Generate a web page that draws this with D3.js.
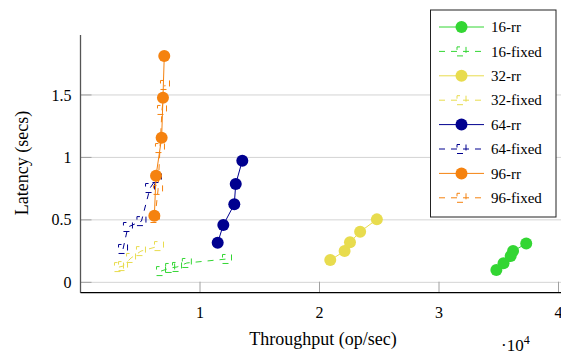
<!DOCTYPE html>
<html>
<head>
<meta charset="utf-8">
<script src="https://d3js.org/d3.v7.min.js"></script>
<style>
  body { margin: 0; background: #fff; }
  svg { font-family: 'Liberation Serif', 'DejaVu Serif', serif; }
</style>
</head>
<body>
<svg width="561" height="354" id="chart"></svg>
<script>
// series names, colours and values (throughput op/sec, latency secs)
var seriesNames = ['16-rr', '16-fixed', '32-rr', '32-fixed', '64-rr', '64-fixed', '96-rr', '96-fixed'];
var seriesColors = ['#33d633', '#33d633', '#e8dc4e', '#e8dc4e', '#00008f', '#00008f', '#f5820f', '#f5820f'];

var x16rr = [34800, 35400, 36000, 36200, 37300];
var y16rr = [0.098, 0.152, 0.210, 0.250, 0.310];
var x16fixed = [6740, 7500, 8080, 8900, 12260];
var y16fixed = [0.090, 0.115, 0.123, 0.155, 0.187];

var x32rr = [20900, 22100, 22550, 23400, 24800];
var y32rr = [0.178, 0.250, 0.320, 0.405, 0.504];
var x32fixed = [3220, 3560, 4230, 5060, 6570];
var y32fixed = [0.122, 0.130, 0.195, 0.250, 0.290];

var x64rr = [11480, 11950, 12870, 12990, 13540];
var y64rr = [0.317, 0.459, 0.625, 0.787, 0.974];
var x64fixed = [3560, 3970, 5100, 5820, 6400];
var y64fixed = [0.267, 0.443, 0.490, 0.755, 0.835];

var x96rr = [6180, 6320, 6790, 6900, 7010];
var y96rr = [0.533, 0.853, 1.158, 1.478, 1.812];
var x96fixed = [6230, 6490, 6650, 6820, 7070];
var y96fixed = [0.515, 0.740, 1.075, 1.380, 1.580];

var xTicks = [10000, 20000, 30000, 40000];
var xTickLabels = ['1', '2', '3', '4'];
var yTicks = [0, 0.5, 1, 1.5];

var allX = [x16rr, x16fixed, x32rr, x32fixed, x64rr, x64fixed, x96rr, x96fixed];
var allY = [y16rr, y16fixed, y32rr, y32fixed, y64rr, y64fixed, y96rr, y96fixed];

var svg = d3.select('#chart');
var plotLeft = 80.5, plotRight = 558.5, plotTop = 35, plotBottom = 292.7;

var x = d3.scaleLinear().domain([0, 40000]).range([plotLeft, plotRight]);
var y = d3.scaleLinear().domain([-0.083, 1.98]).range([plotBottom, plotTop]);

// horizontal grid
svg.append('g').selectAll('line')
  .data(yTicks).enter().append('line')
  .attr('x1', plotLeft).attr('x2', 561)
  .attr('y1', d => y(d)).attr('y2', d => y(d))
  .attr('stroke', '#d4d4d4').attr('stroke-width', 1);

// y ticks (inside)
svg.append('g').selectAll('line')
  .data(yTicks).enter().append('line')
  .attr('x1', plotLeft).attr('x2', plotLeft + 11)
  .attr('y1', d => y(d)).attr('y2', d => y(d))
  .attr('stroke', '#a0a0a0').attr('stroke-width', 1);

// x ticks (inside)
svg.append('g').selectAll('line')
  .data(xTicks).enter().append('line')
  .attr('x1', d => x(d)).attr('x2', d => x(d))
  .attr('y1', plotBottom).attr('y2', plotBottom - 11)
  .attr('stroke', '#a0a0a0').attr('stroke-width', 1);

// axis lines
svg.append('line').attr('x1', plotLeft).attr('x2', plotLeft).attr('y1', plotTop).attr('y2', plotBottom)
  .attr('stroke', '#555').attr('stroke-width', 1.3);
svg.append('line').attr('x1', plotLeft).attr('x2', 561).attr('y1', plotBottom).attr('y2', plotBottom)
  .attr('stroke', '#000').attr('stroke-width', 1.3);

// tick labels
svg.append('g').selectAll('text')
  .data(yTicks).enter().append('text')
  .attr('x', plotLeft - 9).attr('y', d => y(d)).attr('dy', '0.35em')
  .attr('text-anchor', 'end').attr('font-size', 16)
  .text(d => d3.format('')(d));

svg.append('g').selectAll('text')
  .data(xTicks).enter().append('text')
  .attr('x', d => x(d)).attr('y', plotBottom + 20).attr('dy', '0.35em')
  .attr('text-anchor', 'middle').attr('font-size', 16)
  .text((d, i) => xTickLabels[i]);

// axis titles
svg.append('text')
  .attr('transform', 'translate(28,' + 163 + ') rotate(-90)')
  .attr('text-anchor', 'middle').attr('font-size', 18)
  .text('Latency (secs)');
svg.append('text')
  .attr('x', 323).attr('y', 345)
  .attr('text-anchor', 'middle').attr('font-size', 18)
  .text('Throughput (op/sec)');
var mult = svg.append('text').attr('x', 501).attr('y', 351).attr('font-size', 17);
mult.append('tspan').text('\u00b710');
mult.append('tspan').attr('dy', -7).attr('font-size', 12).text('4');

// series
var line = d3.line().x(d => x(d[0])).y(d => y(d[1]));

function drawMarker(g, cx, cy, i, color) {
  if (i % 2 === 0) {
    g.append('circle').attr('cx', cx).attr('cy', cy).attr('r', 6)
      .attr('fill', color);
  } else {
    g.append('rect').attr('x', cx - 4.5).attr('y', cy - 4.5)
      .attr('width', 9).attr('height', 9)
      .attr('fill', 'none').attr('stroke', color).attr('stroke-width', 1)
      .attr('stroke-dasharray', '6,6').attr('stroke-dashoffset', 3);
  }
}

seriesNames.forEach(function(name, i) {
  var pts = allX[i].map((v, j) => [v, allY[i][j]]);
  var g = svg.append('g');
  g.append('path').datum(pts)
    .attr('d', line)
    .attr('fill', 'none')
    .attr('stroke', seriesColors[i])
    .attr('stroke-width', 1)
    .attr('stroke-dasharray', i % 2 === 0 ? null : '6,6');
  pts.forEach(function(p) {
    drawMarker(g, x(p[0]), y(p[1]), i, seriesColors[i]);
  });
});

// legend
var lx = 430.5, ly = 10, lw = 125.5, lh = 207;
svg.append('rect').attr('x', lx).attr('y', ly).attr('width', lw).attr('height', lh)
  .attr('fill', '#fff').attr('stroke', '#222').attr('stroke-width', 1);

seriesNames.forEach(function(name, i) {
  var ry = 27 + i * 24.4;
  var g = svg.append('g');
  g.append('line').attr('x1', 439).attr('x2', 484).attr('y1', ry).attr('y2', ry)
    .attr('stroke', seriesColors[i]).attr('stroke-width', 1)
    .attr('stroke-dasharray', i % 2 === 0 ? null : '6,6');
  drawMarker(g, 461.5, ry, i, seriesColors[i]);
  g.append('text').attr('x', 491).attr('y', ry).attr('dy', '0.35em')
    .attr('font-size', 15).text(name);
});
</script>
</body>
</html>
